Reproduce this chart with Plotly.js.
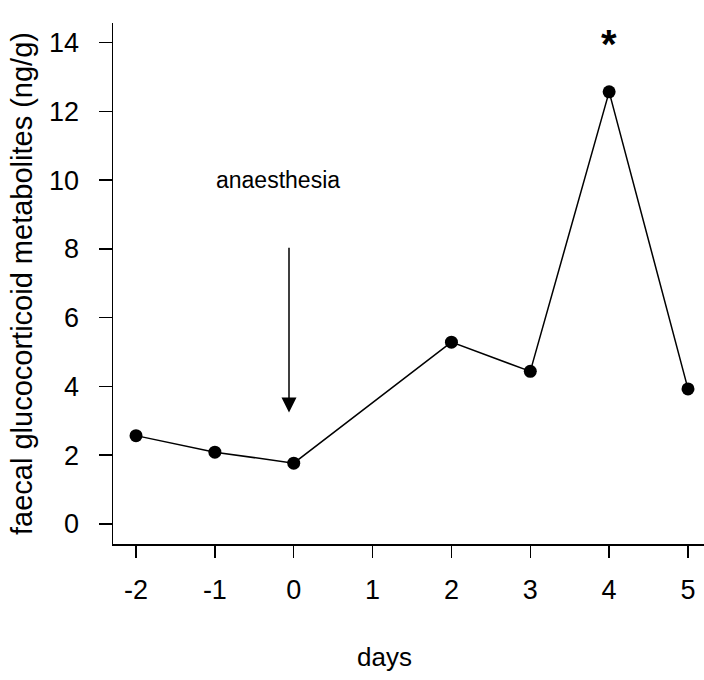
<!DOCTYPE html>
<html>
<head>
<meta charset="utf-8">
<script src="https://cdn.plot.ly/plotly-3.0.1.min.js"></script>
<style>html,body{margin:0;padding:0;background:#fff;}#chart{width:704px;height:680px;}</style>
</head>
<body>
<div id="chart"></div>
<script>
const days = [-2, -1, 0, 2, 3, 4, 5];
const metabolites = [2.57, 2.09, 1.77, 5.29, 4.44, 12.57, 3.93];
const xTicks = [-2, -1, 0, 1, 2, 3, 4, 5];
const yTicks = [0, 2, 4, 6, 8, 10, 12, 14];

const FONT = 'Liberation Sans, Arial, sans-serif';

const trace = {
  x: days,
  y: metabolites,
  type: 'scatter',
  mode: 'lines+markers',
  line: {color: '#000', width: 1.5},
  marker: {color: '#000', size: 13, symbol: 'circle'},
  showlegend: false,
  hoverinfo: 'x+y'
};

const layout = {
  width: 704,
  height: 680,
  margin: {l: 113, r: 0, t: 23, b: 136},
  paper_bgcolor: '#fff',
  plot_bgcolor: '#fff',
  font: {family: FONT, color: '#000', size: 27},
  xaxis: {
    range: [-2.292, 5.203],
    tickvals: xTicks,
    ticktext: xTicks.map(String),
    showgrid: false,
    zeroline: false,
    showline: true,
    linecolor: '#000',
    linewidth: 1.5,
    ticks: 'outside',
    ticklen: 12,
    tickwidth: 1.5,
    tickcolor: '#000',
    tickfont: {family: FONT, size: 27, color: '#000'},
    ticklabelstandoff: 9
  },
  yaxis: {
    range: [-0.582, 14.573],
    tickvals: yTicks,
    ticktext: yTicks.map(String),
    showgrid: false,
    zeroline: false,
    showline: true,
    linecolor: '#000',
    linewidth: 1.5,
    ticks: 'outside',
    ticklen: 13,
    tickwidth: 1.5,
    tickcolor: '#000',
    tickfont: {family: FONT, size: 27, color: '#000'},
    ticklabelstandoff: 14,
    title: {text: 'faecal glucocorticoid metabolites (ng/g)', font: {family: FONT, size: 29, color: '#000'}, standoff: 8}
  },
  annotations: [
    {
      xref: 'paper', yref: 'paper', x: (384.5 - 113) / 591, y: (544 - 657) / 521,
      text: 'days', showarrow: false, xanchor: 'center', yanchor: 'middle',
      font: {family: FONT, size: 26, color: '#000'}
    },
    {
      x: -0.2, y: 10.0, xref: 'x', yref: 'y',
      text: 'anaesthesia', showarrow: false, xanchor: 'center', yanchor: 'middle',
      font: {family: FONT, size: 23, color: '#000'}
    },
    {
      x: -0.06, y: 3.24, xref: 'x', yref: 'y',
      ax: -0.06, ay: 8.08, axref: 'x', ayref: 'y',
      text: '', showarrow: true, arrowhead: 2, arrowsize: 2, arrowwidth: 1.5,
      arrowcolor: '#000', standoff: 0, startstandoff: 0
    },
    {
      x: 4, y: 13.95, xref: 'x', yref: 'y',
      text: '<b>*</b>', showarrow: false, xanchor: 'center', yanchor: 'middle',
      font: {family: FONT, size: 40, color: '#000'}
    }
  ]
};

Plotly.newPlot('chart', [trace], layout, {displayModeBar: false, staticPlot: true});
</script>
</body>
</html>
